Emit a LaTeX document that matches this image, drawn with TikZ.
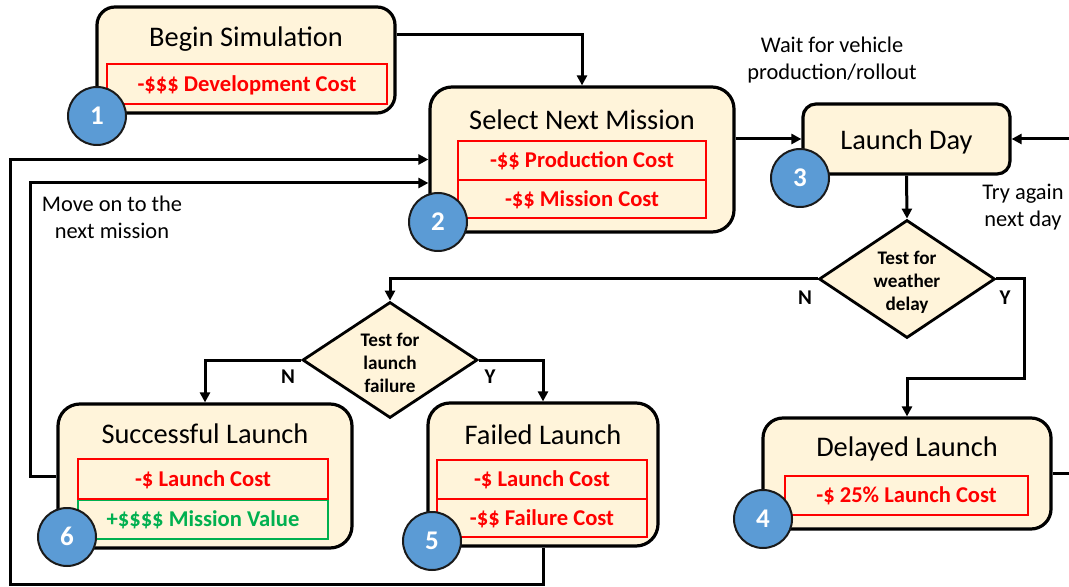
\documentclass[tikz,border=0pt]{standalone}
\usepackage{fontspec}
\setmainfont{Carlito}
\usetikzlibrary{arrows.meta,shapes.geometric}
\definecolor{cream}{HTML}{FFF4DA}
\definecolor{cred}{HTML}{FF0000}
\definecolor{cgreen}{HTML}{00B050}
\definecolor{cblue}{HTML}{5B9BD5}
\definecolor{cdark}{HTML}{1A1A1A}
\begin{document}
\begin{tikzpicture}[x=0.5pt,y=-0.5pt,
  mainbox/.style={draw=black, line width=1.6pt, fill=cream, inner sep=0pt},
  title/.style={inner sep=0pt, font=\fontsize{14.2}{16}\selectfont, text height=9.1pt, text depth=0pt},
  costbox/.style={draw=cred, line width=1.35pt, inner sep=0pt, text=cred,
    font=\fontsize{11.3}{13}\selectfont\bfseries, text height=7.2pt, text depth=0pt},
  valbox/.style={costbox, draw=cgreen, text=cgreen},
  dia/.style={diamond, draw=black, line width=1.4pt, fill=cream, inner sep=0pt},
  dtext/.style={align=center, inner sep=0pt, font=\fontsize{9.6}{11.5}\selectfont\bfseries},
  note/.style={align=center, inner sep=0pt, font=\fontsize{11.2}{13.5}\selectfont},
  yn/.style={inner sep=0pt, font=\fontsize{10.5}{12}\selectfont\bfseries},
  num/.style={circle, draw=cdark, line width=1pt, fill=cblue, minimum size=29pt, inner sep=0pt,
    text=white, font=\fontsize{13.5}{15}\selectfont\bfseries, text height=8.5pt, text depth=0pt},
  conn/.style={draw=black, line width=1.5pt, -{Triangle[length=5pt,width=5pt]}}
]
\useasboundingbox (0,0) rectangle (1069,587);

% main boxes
\node[mainbox, minimum width=149pt, minimum height=53pt, rounded corners=9pt] (begin) at (246,60) {};
\node[mainbox, minimum width=152pt, minimum height=72.5pt, rounded corners=11pt] (sel) at (582,159.5) {};
\node[mainbox, minimum width=103.5pt, minimum height=35pt, rounded corners=6.5pt] (launch) at (906.5,139) {};
\node[mainbox, minimum width=147pt, minimum height=72pt, rounded corners=11pt] (succ) at (205,476) {};
\node[mainbox, minimum width=115pt, minimum height=71.5pt, rounded corners=11pt] (failed) at (543,474.5) {};
\node[mainbox, minimum width=144pt, minimum height=55.5pt, rounded corners=10pt] (delayed) at (907,473.5) {};

% titles
\node[title] (tbegin) at (246,37) {Begin Simulation};
\node[title] (tsel) at (582,120) {Select Next Mission};
\node[title] (tlaunch) at (906.5,140) {Launch Day};
\node[title] (tsucc) at (205,434) {Successful Launch};
\node[title] (tfailed) at (543,435.5) {Failed Launch};
\node[title] (tdelayed) at (907,447) {Delayed Launch};

% cost boxes
\node[costbox, minimum width=140pt, minimum height=20pt] (dev) at (247,84) {-\$\$\$ Development Cost};
\node[costbox, minimum width=124pt, minimum height=19.5pt] (prod) at (582,160.5) {-\$\$ Production Cost};
\node[costbox, minimum width=124pt, minimum height=19pt] (miss) at (582,199) {-\$\$ Mission Cost};
\node[valbox, minimum width=125pt, minimum height=19.5pt] (mval) at (203,519.5) {+\$\$\$\$ Mission Value};
\node[costbox, minimum width=125pt, minimum height=20pt] (slc) at (203,479) {-\$ Launch Cost};
\node[costbox, minimum width=105pt, minimum height=19.5pt] (flc) at (542,479.5) {-\$ Launch Cost};
\node[costbox, minimum width=105pt, minimum height=19pt] (fcost) at (542,518) {-\$\$ Failure Cost};
\node[costbox, minimum width=121.5pt, minimum height=19.5pt] (dlc) at (906.5,495.5) {-\$ 25\% Launch Cost};

% diamonds
\node[dia, minimum width=88pt, minimum height=59pt] (wx) at (907,279) {};
\node[dtext] (twx) at (907,282) {Test for\\weather\\delay};
\node[dia, minimum width=87.5pt, minimum height=58pt] (lf) at (390,360) {};
\node[dtext] (tlf) at (390,363) {Test for\\launch\\failure};

% notes
\node[note] (nwait) at (832,60) {Wait for vehicle\\production/rollout};
\node[note] (ntry) at (1023,207) {Try again\\next day};
\node[note] (nmove) at (112,217) {Move on to the\\next mission};
\node[yn] (nwx) at (805,298) {N};
\node[yn] (ywx) at (1005,298) {Y};
\node[yn] (nlf) at (288,377) {N};
\node[yn] (ylf) at (490,377) {Y};

% connectors
\draw[conn] (begin.east |- 0,35) -| (sel.north);
\draw[conn] (sel.east |- launch.west) -- (launch.west);
\begin{scope}
\clip (0,0) rectangle (1069,587);
\draw[conn] (delayed.east) -- ++(40,0) |- (launch.east);
\end{scope}
\draw[conn] (launch.south) -- (wx.north);
\draw[conn] (wx.west) -| (lf.north);
\draw[conn] (wx.east) -| (1024,378) -| (delayed.north);
\draw[conn] (lf.west) -| (succ.north);
\draw[conn] (lf.east) -| (failed.north);
\draw[conn] (succ.west) -- (30,476) |- (sel.west |- 0,183);
\draw[conn] (failed.south) |- (10,584) |- (sel.west);

% numbered circles
\node[num] (c1) at (97,116) {1};
\node[num] (c2) at (438,222) {2};
\node[num] (c3) at (800,178) {3};
\node[num] (c4) at (763,519) {4};
\node[num] (c5) at (432,541) {5};
\node[num] (c6) at (67,537) {6};
\end{tikzpicture}
\end{document}
